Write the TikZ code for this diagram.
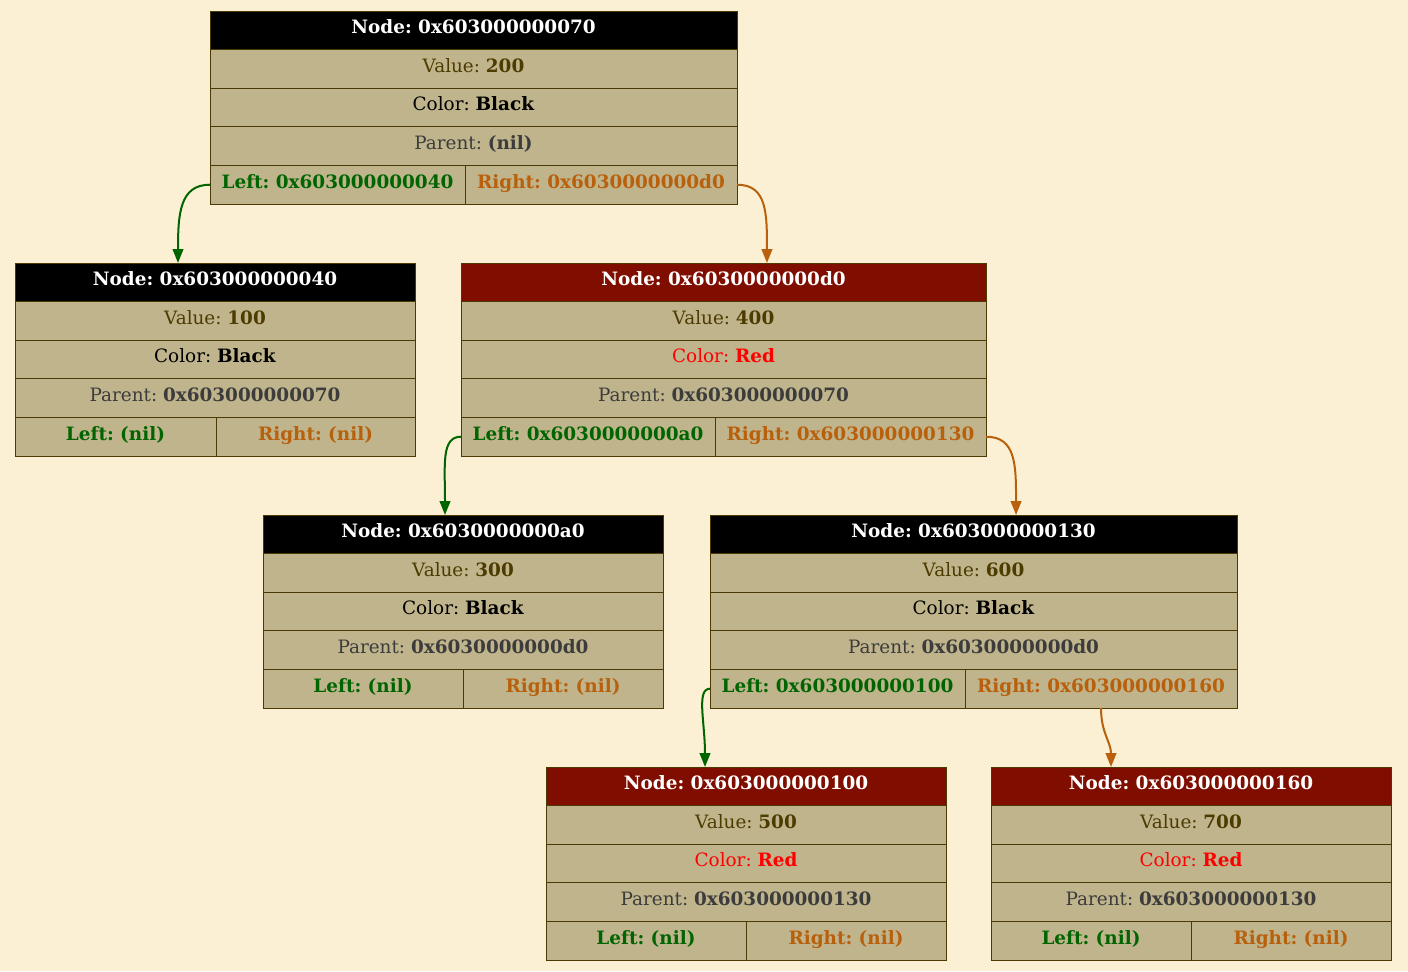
\documentclass[tikz,border=0pt]{standalone}
\usepackage{fontspec}
\setmainfont{DejaVu Serif}
\frenchspacing
\usetikzlibrary{arrows.meta}
\definecolor{bg}{HTML}{FBF0D3}
\definecolor{cellfill}{HTML}{BFB48C}
\definecolor{border}{HTML}{4B3A04}
\definecolor{hdrblack}{HTML}{000000}
\definecolor{hdrred}{HTML}{800E00}
\definecolor{valc}{HTML}{4D3B00}
\definecolor{parc}{HTML}{3C3C3C}
\definecolor{leftc}{HTML}{006400}
\definecolor{rightc}{HTML}{B8600B}
\definecolor{redc}{HTML}{FF0000}
\tikzset{
  cell/.style={draw=border, line width=0.75pt, fill=cellfill, minimum height=28.95pt,
    inner sep=0pt, outer sep=0pt, anchor=north west, text height=10pt, text depth=5pt,
    font=\fontsize{13.8}{15}\selectfont},
  hdrcell/.style={cell, text=white, font=\fontsize{13.8}{15}\selectfont\bfseries},
  portcell/.style={cell, font=\fontsize{13.8}{15}\selectfont\bfseries},
  ledge/.style={draw=leftc, line width=1.5pt, -{Triangle[length=10.5pt,width=8pt]}},
  redge/.style={draw=rightc, line width=1.5pt, -{Triangle[length=10.5pt,width=8pt]}}
}
\newcommand\blk{\color{black}Color: \textbf{Black}}
\newcommand\rd{\color{redc}Color: \textbf{Red}}
% id, x, y, width, header colour, address, value, colour row, parent
\newcommand\rbnode[9]{%
  \node[hdrcell, fill=#5, minimum width=#4*0.75pt] (#1H) at (#2,#3) {Node: #6};
  \node[cell, minimum width=#4*0.75pt] (#1V) at (#1H.south west) {\color{valc}Value: \textbf{#7}};
  \node[cell, minimum width=#4*0.75pt] (#1C) at (#1V.south west) {#8};
  \node[cell, minimum width=#4*0.75pt] (#1P) at (#1C.south west) {\color{parc}Parent: \textbf{#9}};
}
% id, left width, right width, left text, right text
\newcommand\rbports[5]{%
  \node[portcell, minimum width=#2*0.75pt, text=leftc] (#1L) at (#1P.south west) {Left: #4};
  \node[portcell, minimum width=#3*0.75pt, text=rightc] (#1R) at (#1L.north east) {Right: #5};
}
\begin{document}
\begin{tikzpicture}[x=0.75pt, y=-0.75pt]
\fill[bg] (0,0) rectangle (1408,971);
\useasboundingbox (0,0) rectangle (1408,971);

\rbnode{a}{210}{11}{527}{hdrblack}{0x603000000070}{200}{\blk}{(nil)}
\rbports{a}{255}{272}{0x603000000040}{0x6030000000d0}

\rbnode{b}{15}{263}{400}{hdrblack}{0x603000000040}{100}{\blk}{0x603000000070}
\rbports{b}{201}{199}{(nil)}{(nil)}

\rbnode{c}{461}{263}{525}{hdrred}{0x6030000000d0}{400}{\rd}{0x603000000070}
\rbports{c}{254}{271}{0x6030000000a0}{0x603000000130}

\rbnode{d}{263}{515}{400}{hdrblack}{0x6030000000a0}{300}{\blk}{0x6030000000d0}
\rbports{d}{200}{200}{(nil)}{(nil)}

\rbnode{e}{710}{515}{527}{hdrblack}{0x603000000130}{600}{\blk}{0x6030000000d0}
\rbports{e}{255}{272}{0x603000000100}{0x603000000160}

\rbnode{f}{546}{767}{400}{hdrred}{0x603000000100}{500}{\rd}{0x603000000130}
\rbports{f}{200}{200}{(nil)}{(nil)}

\rbnode{g}{991}{767}{400}{hdrred}{0x603000000160}{700}{\rd}{0x603000000130}
\rbports{g}{200}{200}{(nil)}{(nil)}

\draw[ledge] (aL.west) .. controls +(-30,0) and +(0,-50) .. ([xshift=-27.75pt]bH.north);
\draw[redge] (aR.east) .. controls +(30,0) and +(0,-50) .. ([xshift=32.6pt]cH.north);
\draw[ledge] (cL.west) .. controls +(-20,0) and +(0,-50) .. ([xshift=-13.5pt]dH.north);
\draw[redge] (cR.east) .. controls +(30,0) and +(0,-50) .. ([xshift=31.9pt]eH.north);
\draw[ledge] (eL.west) .. controls +(-14,0) and +(0,-45) .. ([xshift=-30.75pt]fH.north);
\draw[redge] (eR.south) .. controls +(0,25) and +(0,-25) .. ([xshift=-60pt]gH.north);
\end{tikzpicture}
\end{document}
